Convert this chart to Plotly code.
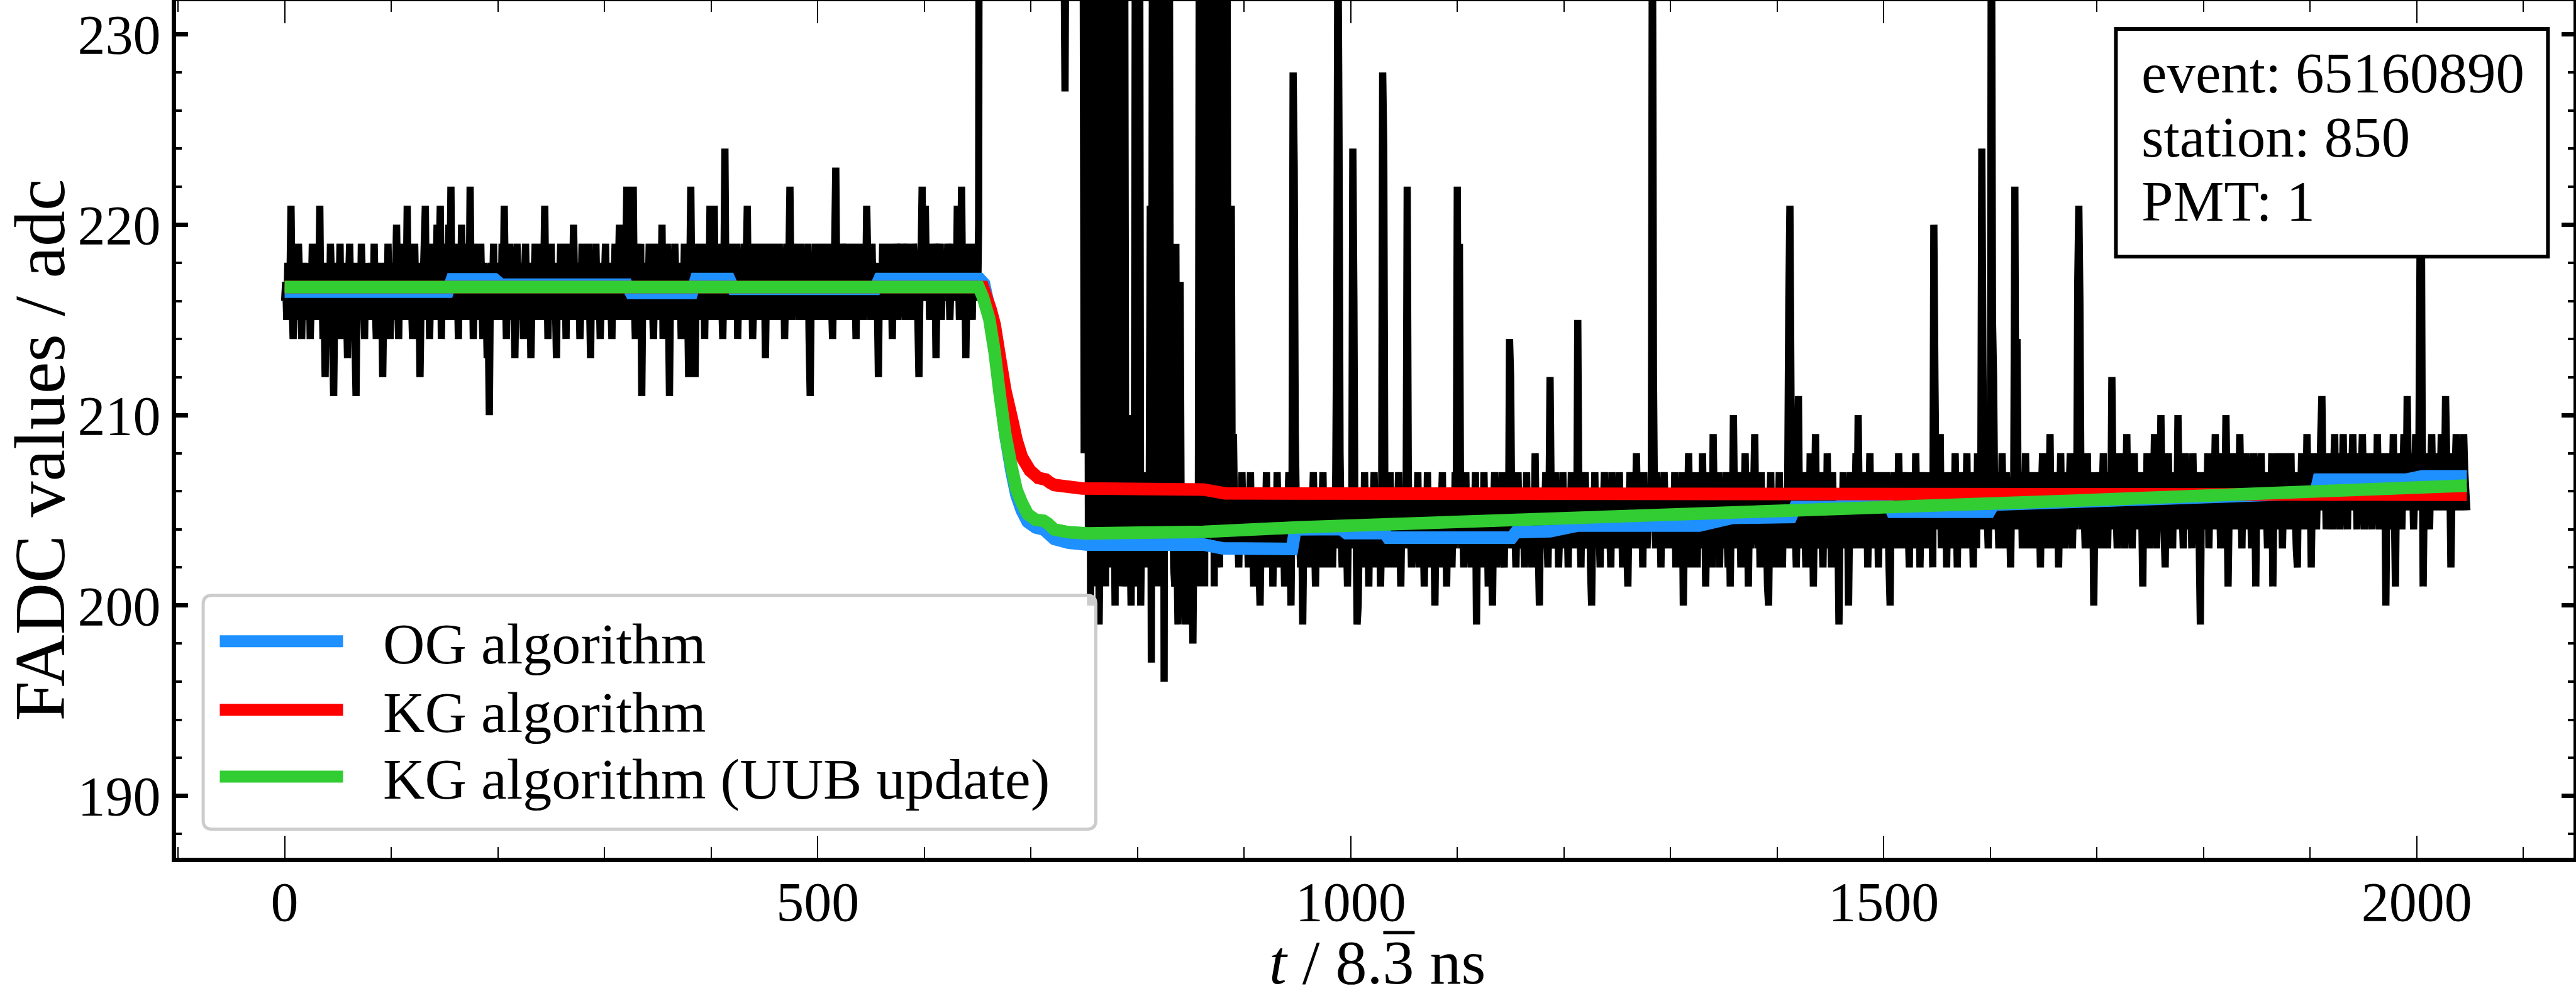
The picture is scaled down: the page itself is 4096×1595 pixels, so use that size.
import plotly.graph_objects as go

FONT = "Liberation Serif"

# ---------------- data ----------------
# FADC trace, samples 0..651 (pre-pulse baseline noise)
trace_pre = [
216,217,215,218,216,217,221,216,214,218,217,215,216,219,217,216,214,217,218,216,
215,217,216,218,214,216,219,217,215,216,218,217,216,221,215,217,214,216,212,217,
218,216,215,219,217,214,211,216,218,215,217,216,219,214,216,218,215,217,216,213,
217,219,216,215,218,216,214,211,217,216,218,215,219,217,216,214,218,216,217,215,
216,218,217,215,219,216,214,217,218,216,215,217,212,216,218,217,215,219,216,214,
217,216,218,215,217,220,216,214,218,217,215,216,219,217,216,221,215,217,218,216,
214,217,219,216,218,215,217,212,216,218,217,219,221,215,216,218,214,217,219,216,
218,215,217,220,216,218,221,214,217,219,216,218,215,217,220,216,222,215,218,217,
216,219,217,214,218,216,220,217,215,218,219,216,217,215,222,216,218,214,217,219,
216,218,215,217,219,216,214,218,217,216,213,215,210,217,218,216,219,215,217,216,
218,216,217,215,219,216,221,217,214,218,216,219,217,215,218,216,213,217,219,216,
215,218,217,216,214,217,219,216,218,215,217,213,216,218,217,219,215,216,218,217,
216,219,215,217,221,216,218,214,217,216,219,215,218,217,216,213,218,216,217,219,
215,217,216,218,214,219,216,217,215,218,216,220,217,215,216,218,217,214,216,219,
217,216,218,215,217,219,216,213,218,216,217,215,219,216,218,217,214,216,218,215,
217,219,216,218,215,217,216,214,218,217,219,216,215,217,220,216,218,215,217,216,
218,222,216,215,218,217,219,222,216,214,217,218,216,215,219,211,217,216,218,215,
217,216,219,215,218,216,214,217,219,216,218,215,217,216,220,214,217,218,216,219,
216,211,217,218,215,216,219,217,215,218,216,217,214,218,216,219,217,215,216,212,
217,222,216,218,215,212,217,219,216,218,215,217,216,219,214,218,216,217,215,221,
216,218,217,221,215,216,219,217,215,218,216,214,217,224,216,218,215,217,219,216,
218,215,217,216,219,214,217,218,216,215,217,219,216,218,221,215,217,216,218,214,
216,219,217,215,218,216,217,219,215,216,218,213,217,219,216,218,215,217,216,219,
215,217,218,216,219,215,217,216,218,214,217,219,216,218,222,216,215,217,219,216,
218,216,217,215,219,217,216,218,215,217,216,219,214,211,217,218,216,215,219,217,
216,218,215,217,219,216,218,217,215,216,219,217,218,216,214,217,219,223,216,218,
215,217,216,219,218,216,215,217,219,216,218,217,215,216,219,217,214,218,216,217,
219,216,218,215,217,216,221,218,216,217,215,219,216,218,217,215,216,212,218,217,
216,219,217,215,218,216,217,219,216,218,214,217,216,219,218,215,217,216,218,219,
216,217,215,218,219,216,218,217,215,216,219,218,217,216,215,212,217,218,222,216,
218,221,217,216,219,215,218,217,216,219,218,213,217,216,218,219,215,217,216,218,
217,216,219,218,215,217,219,216,218,217,216,221,218,215,217,222,216,218,217,213,
217,219,216,218,217,215,219,216,218,217,216,220,
]
# samples 652..749: large pulse, mostly far above the visible range
trace_pulse = [
262,480,850,1120,1240,1190,1080,960,870,790,720,660,610,570,530,495,465,440,418,398,
380,365,350,338,326,316,306,298,290,283,276,270,264,259,254,250,246,243,240,238,
236,246,258,251,244,240,237,242,249,245,241,238,236,240,244,239,237,241,238,236,
240,243,239,237,235,238,241,237,235,239,236,234,238,240,236,234,237,239,235,236,
227,238,241,236,239,244,237,240,236,242,238,235,240,237,243,236,239,238,
]
# samples 750..899: pulse tail with large fluctuations
trace_tail = [
208,238,221,236,203,240,200,233,205,237,207,234,201,236,199,204,235,206,202,238,
201,236,205,203,237,204,202,234,206,200,236,205,207,238,201,204,235,202,236,203,
201,205,209,204,200,210,206,203,236,204,201,205,238,200,205,203,207,204,202,206,
203,205,221,197,234,206,238,203,236,201,237,205,234,203,238,196,235,205,236,206,
233,205,204,206,202,201,219,203,199,205,217,204,203,206,202,199,204,205,203,206,
204,202,198,205,203,206,204,201,236,203,207,238,237,201,235,203,236,204,238,206,
235,226,201,236,204,238,203,202,223,237,233,203,234,206,236,204,203,205,221,203,
209,205,203,206,204,202,205,203,207,204,
]
# samples 900..1299
trace_c = [
205,203,206,204,202,205,207,203,204,201,206,204,203,205,202,200,204,206,203,205,
204,207,202,205,203,204,206,201,205,204,203,207,204,202,205,203,206,204,201,205,
203,205,207,204,200,206,228,223,209,205,203,206,204,202,205,199,204,206,203,205,
204,202,206,203,205,207,204,201,205,203,206,204,202,205,207,203,204,206,202,205,
203,206,204,202,205,203,207,216,236,225,208,204,202,205,203,206,204,201,205,203,
206,204,224,216,203,205,199,200,204,206,203,205,202,207,204,203,205,201,206,204,
203,205,207,204,202,206,203,205,201,204,228,224,206,203,205,202,204,207,203,205,
204,202,206,203,205,207,204,201,205,203,206,204,205,222,207,203,205,202,204,206,
203,205,204,207,202,205,203,206,204,201,205,203,207,204,202,206,203,205,204,200,
205,203,206,204,202,205,207,203,204,206,201,205,203,204,206,202,205,203,207,204,
222,205,219,206,203,205,202,204,207,203,205,204,206,202,205,203,204,207,199,205,
204,206,203,205,202,207,204,203,205,201,206,204,203,200,205,207,204,202,206,203,
205,204,207,203,202,206,204,205,203,214,212,205,203,206,204,202,205,207,203,204,
206,203,205,202,204,207,203,205,204,206,202,205,203,208,204,206,203,200,205,204,
206,203,205,207,204,202,205,212,206,203,204,205,207,203,206,202,204,205,203,207,
204,206,203,205,202,206,204,207,203,205,204,206,203,215,205,204,202,206,203,205,
207,204,203,205,206,202,200,205,204,207,203,206,205,204,202,206,203,205,207,204,
203,205,206,204,202,207,205,203,206,204,205,203,207,204,206,202,205,204,206,203,
201,205,207,204,206,203,205,204,208,205,203,206,204,205,202,207,204,206,203,205,
204,206,205,238,212,205,203,207,204,206,205,202,206,204,207,205,203,206,204,205,
]
# samples 1300..1699
trace_d = [
205,203,206,204,207,202,205,204,206,203,205,207,200,204,206,203,205,208,204,202,
206,204,203,205,207,202,206,204,205,203,208,204,206,201,205,203,207,204,205,202,
209,205,203,206,204,207,202,205,204,206,203,205,207,204,202,206,201,205,204,210,
205,203,206,204,207,205,202,206,203,205,208,204,206,201,205,203,207,204,206,209,
204,205,203,206,202,207,204,205,203,206,204,201,200,205,207,203,206,204,205,202,
206,204,207,203,205,202,206,204,205,203,207,216,221,211,205,203,206,204,202,205,
211,204,206,203,205,207,204,202,206,205,203,208,204,206,201,205,209,204,203,206,
205,207,204,202,206,205,203,208,204,206,205,202,207,204,205,203,206,204,199,205,
206,204,207,203,205,204,206,200,205,207,204,206,203,205,208,204,210,205,203,206,
204,207,205,203,206,202,205,208,204,206,203,205,207,204,206,202,205,204,207,205,
203,206,204,207,205,202,200,206,204,205,207,203,206,204,208,205,203,206,204,207,
205,203,206,204,202,207,205,204,206,203,208,205,204,206,202,205,207,204,206,203,
205,204,207,203,206,205,202,220,212,206,204,207,205,209,203,206,204,205,207,202,
206,204,205,207,203,206,204,208,205,202,206,204,207,205,203,206,204,205,208,203,
206,204,207,205,202,206,205,203,208,204,206,205,224,213,206,204,207,205,203,206,
205,240,215,212,206,204,207,205,203,206,204,208,205,206,203,207,204,206,205,202,
206,204,207,222,205,214,206,204,205,207,203,206,204,208,205,203,206,205,207,204,
206,203,205,207,204,206,205,202,206,208,205,204,207,203,206,205,209,204,206,203,
205,207,204,206,202,205,208,204,206,205,203,207,205,204,206,208,205,203,206,204,
207,205,217,221,216,206,204,207,205,203,206,208,204,206,205,203,207,200,205,206,
]
# samples 1700..2047
trace_e = [
206,204,207,205,203,206,208,204,205,207,203,206,205,204,212,206,204,207,205,203,
206,208,205,204,207,205,203,206,209,205,204,207,206,203,205,208,204,206,205,207,
204,206,205,201,207,205,204,208,206,203,205,207,204,206,209,205,203,207,205,206,
210,205,207,204,202,206,205,208,204,206,205,203,207,205,206,204,210,206,204,207,
205,203,206,208,205,204,207,205,206,203,208,205,204,206,207,205,203,199,206,205,
207,204,206,205,208,203,206,205,207,204,206,209,205,204,207,206,203,205,208,206,
205,210,206,201,205,207,206,204,208,205,206,207,204,205,209,206,203,207,205,206,
208,205,204,207,206,203,205,208,206,201,207,205,204,206,208,205,207,204,206,205,
203,207,206,205,208,201,206,207,205,204,208,206,205,207,203,206,208,205,204,207,
206,205,208,204,207,206,205,203,202,207,206,205,208,204,206,207,205,209,206,204,
207,202,206,205,208,206,204,207,205,206,209,211,206,205,208,204,207,206,205,208,
206,204,207,209,205,206,208,205,204,207,206,209,205,207,206,204,208,206,205,207,
209,206,205,207,204,208,206,205,207,209,206,204,207,206,208,205,207,206,204,208,
206,207,205,209,206,204,207,206,208,205,207,200,206,205,208,207,204,206,209,205,
201,207,206,205,208,206,204,207,209,206,205,211,207,206,208,205,207,204,206,209,
207,205,208,218,226,210,201,206,207,205,208,206,204,207,209,206,205,208,207,206,
205,208,206,209,207,205,206,211,208,206,205,207,202,206,208,205,207,209,206,205,
207,208,205,206,209,207,206,205,
]

fadc = trace_pre + trace_pulse + trace_tail + trace_c + trace_d + trace_e
samples = list(range(len(fadc)))

# baseline estimates (vertices of the drawn polylines)
og_t = [0, 153, 157, 197, 203, 321, 325, 382, 386, 417, 421, 554, 558, 652, 656, 661, 666, 671,
        676, 682, 686.5, 691.5, 697, 704.5, 712, 716, 722, 735, 753, 862, 880, 945, 948, 991,
        996, 1032, 1035, 1151, 1155, 1187, 1213, 1327, 1358, 1413, 1417, 1458, 1462, 1504,
        1508, 1599, 1603, 1905, 1908, 1990, 2005, 2047]
og_v = [216.49, 216.49, 217.13, 217.13, 216.85, 216.85, 216.42, 216.42, 217.15, 217.15, 216.64,
        216.64, 217.15, 217.15, 216.9, 215.6, 213.6, 211.2, 209.0, 207.0, 205.8, 205.0, 204.4,
        204.1, 204.0, 203.8, 203.5, 203.3, 203.2, 203.2, 203.0, 202.97, 204.0, 204.02, 203.8,
        203.8, 203.56, 203.56, 203.85, 203.9, 204.2, 204.2, 204.6, 204.65, 205.17, 205.17,
        205.46, 205.46, 204.93, 204.93, 205.3, 205.9, 206.61, 206.61, 206.78, 206.78]

kg_t = [0, 655, 662, 666, 671, 676, 682, 686.5, 691.5, 699, 707, 714, 718, 722, 748, 862, 882, 2047]
kg_v = [216.73, 216.73, 215.6, 214.76, 213.0, 211.3, 209.85, 208.7, 207.8, 207.1, 206.7, 206.62,
        206.45, 206.33, 206.15, 206.09, 205.89, 205.82]

uub_t = [0, 651, 655, 661, 666, 671, 676, 682, 686.5, 691.5, 697, 704.5, 712, 716, 722, 735, 753,
         862, 949, 1340, 1700, 2047]
uub_v = [216.73, 216.73, 216.2, 215.05, 213.3, 211.0, 209.0, 207.24, 206.09, 205.4, 204.8, 204.5,
         204.45, 204.3, 203.99, 203.85, 203.79, 203.87, 204.1, 204.85, 205.55, 206.3]

series_names = ["OG algorithm", "KG algorithm", "KG algorithm (UUB update)"]
series_colors = ["#1E90FF", "#FF0000", "#32CD32"]
info_lines = ["event: 65160890", "station: 850", "PMT: 1"]
x_tickvals = [0, 500, 1000, 1500, 2000]
y_tickvals = [190, 200, 210, 220, 230]

# ---------------- geometry (pixels in the 4096x1595 page) ----------------
W, H = 4096, 1595
L, R, T, B = 279.5, 4091.6, 1.8, 1364.0


def px(x):
    return (x - L) / (R - L)


def py(y):
    return (B - y) / (B - T)


fig = go.Figure()
fig.add_trace(go.Scatter(x=samples, y=fadc, mode="lines",
                         line=dict(color="black", width=11.5, simplify=False),
                         showlegend=False, hoverinfo="skip"))
for tt, vv, name, col in zip([og_t, kg_t, uub_t], [og_v, kg_v, uub_v], series_names, series_colors):
    fig.add_trace(go.Scatter(x=tt, y=vv, mode="lines", name=name,
                             line=dict(color=col, width=20, simplify=False),
                             showlegend=False, hoverinfo="skip"))

shapes = []
annotations = []

# legend (matplotlib-like rounded frame)
lx0, lx1, ly0, ly1, rad = 322.6, 1742.0, 946.7, 1318.5, 14.0
path = (f"M {px(lx0+rad)},{py(ly0)} L {px(lx1-rad)},{py(ly0)} Q {px(lx1)},{py(ly0)} {px(lx1)},{py(ly0+rad)} "
        f"L {px(lx1)},{py(ly1-rad)} Q {px(lx1)},{py(ly1)} {px(lx1-rad)},{py(ly1)} "
        f"L {px(lx0+rad)},{py(ly1)} Q {px(lx0)},{py(ly1)} {px(lx0)},{py(ly1-rad)} "
        f"L {px(lx0)},{py(ly0+rad)} Q {px(lx0)},{py(ly0)} {px(lx0+rad)},{py(ly0)} Z")
shapes.append(dict(type="path", path=path, xref="paper", yref="paper", layer="above",
                   fillcolor="rgba(255,255,255,0.8)", line=dict(color="#cccccc", width=5)))
handle_y = [1019.6, 1128.6, 1235.0]
for yy, name, col in zip(handle_y, series_names, series_colors):
    shapes.append(dict(type="line", xref="paper", yref="paper", layer="above",
                       x0=px(349), x1=px(545), y0=py(yy), y1=py(yy),
                       line=dict(color=col, width=19)))
    annotations.append(dict(text=name, xref="paper", yref="paper", x=px(606.5), y=py(yy + 4),
                            xanchor="left", yanchor="middle", showarrow=False,
                            font=dict(family=FONT, size=92, color="black")))

# info box
shapes.append(dict(type="rect", xref="paper", yref="paper", layer="above",
                   x0=px(3364), x1=px(4051), y0=py(45.7), y1=py(407.8),
                   fillcolor="white", line=dict(color="black", width=6)))
for yy, txt in zip([144.2, 246.6, 348.1], info_lines):
    annotations.append(dict(text=txt, xref="paper", yref="paper", x=px(3402.5), y=py(yy - 28),
                            xanchor="left", yanchor="middle", showarrow=False,
                            font=dict(family=FONT, size=91, color="black")))

# axis titles
annotations.append(dict(text="FADC values / adc", xref="paper", yref="paper",
                        x=px(63), y=py(716), xanchor="center", yanchor="middle",
                        textangle=-90, showarrow=False,
                        font=dict(family=FONT, size=114, color="black")))
annotations.append(dict(text="<i>t</i> / 8.3 ns",
                        xref="paper", yref="paper", x=px(2190), y=py(1531),
                        xanchor="center", yanchor="middle", showarrow=False,
                        font=dict(family=FONT, size=100, color="black")))
# repeating-decimal bar over the "3" of the x-axis title
shapes.append(dict(type="line", xref="paper", yref="paper", layer="above",
                   x0=px(2199), x1=px(2249), y0=py(1483), y1=py(1483),
                   line=dict(color="black", width=5)))

fig.update_layout(
    width=W, height=H, autosize=False,
    margin=dict(l=L, r=W - R, t=T, b=H - B, pad=0, autoexpand=False),
    paper_bgcolor="white", plot_bgcolor="white",
    showlegend=False, shapes=shapes, annotations=annotations,
    xaxis=dict(range=[-101.8, 2147.0], tickmode="array", tickvals=x_tickvals,
               ticktext=[str(v) for v in x_tickvals],
               ticks="inside", ticklen=35, tickwidth=2.4, tickcolor="black",
               showline=True, linecolor="black", linewidth=6.6, mirror="ticks",
               showgrid=False, zeroline=False, automargin=False, ticklabelstandoff=-12,
               tickfont=dict(family=FONT, size=88, color="black"),
               minor=dict(tickmode="linear", tick0=0, dtick=100, ticks="inside",
                          ticklen=17, tickwidth=2.4, tickcolor="black", showgrid=False)),
    yaxis=dict(range=[186.75, 231.74], tickmode="array", tickvals=y_tickvals,
               ticktext=[str(v) for v in y_tickvals],
               ticks="inside", ticklen=19, tickwidth=6.5, tickcolor="black",
               showline=True, linecolor="black", linewidth=6.6, mirror="ticks",
               showgrid=False, zeroline=False, automargin=False,
               tickfont=dict(family=FONT, size=88, color="black"),
               minor=dict(tickmode="linear", tick0=0, dtick=2, ticks="inside",
                          ticklen=9.5, tickwidth=3.5, tickcolor="black", showgrid=False)),
)

fig.write_html("out.html")
